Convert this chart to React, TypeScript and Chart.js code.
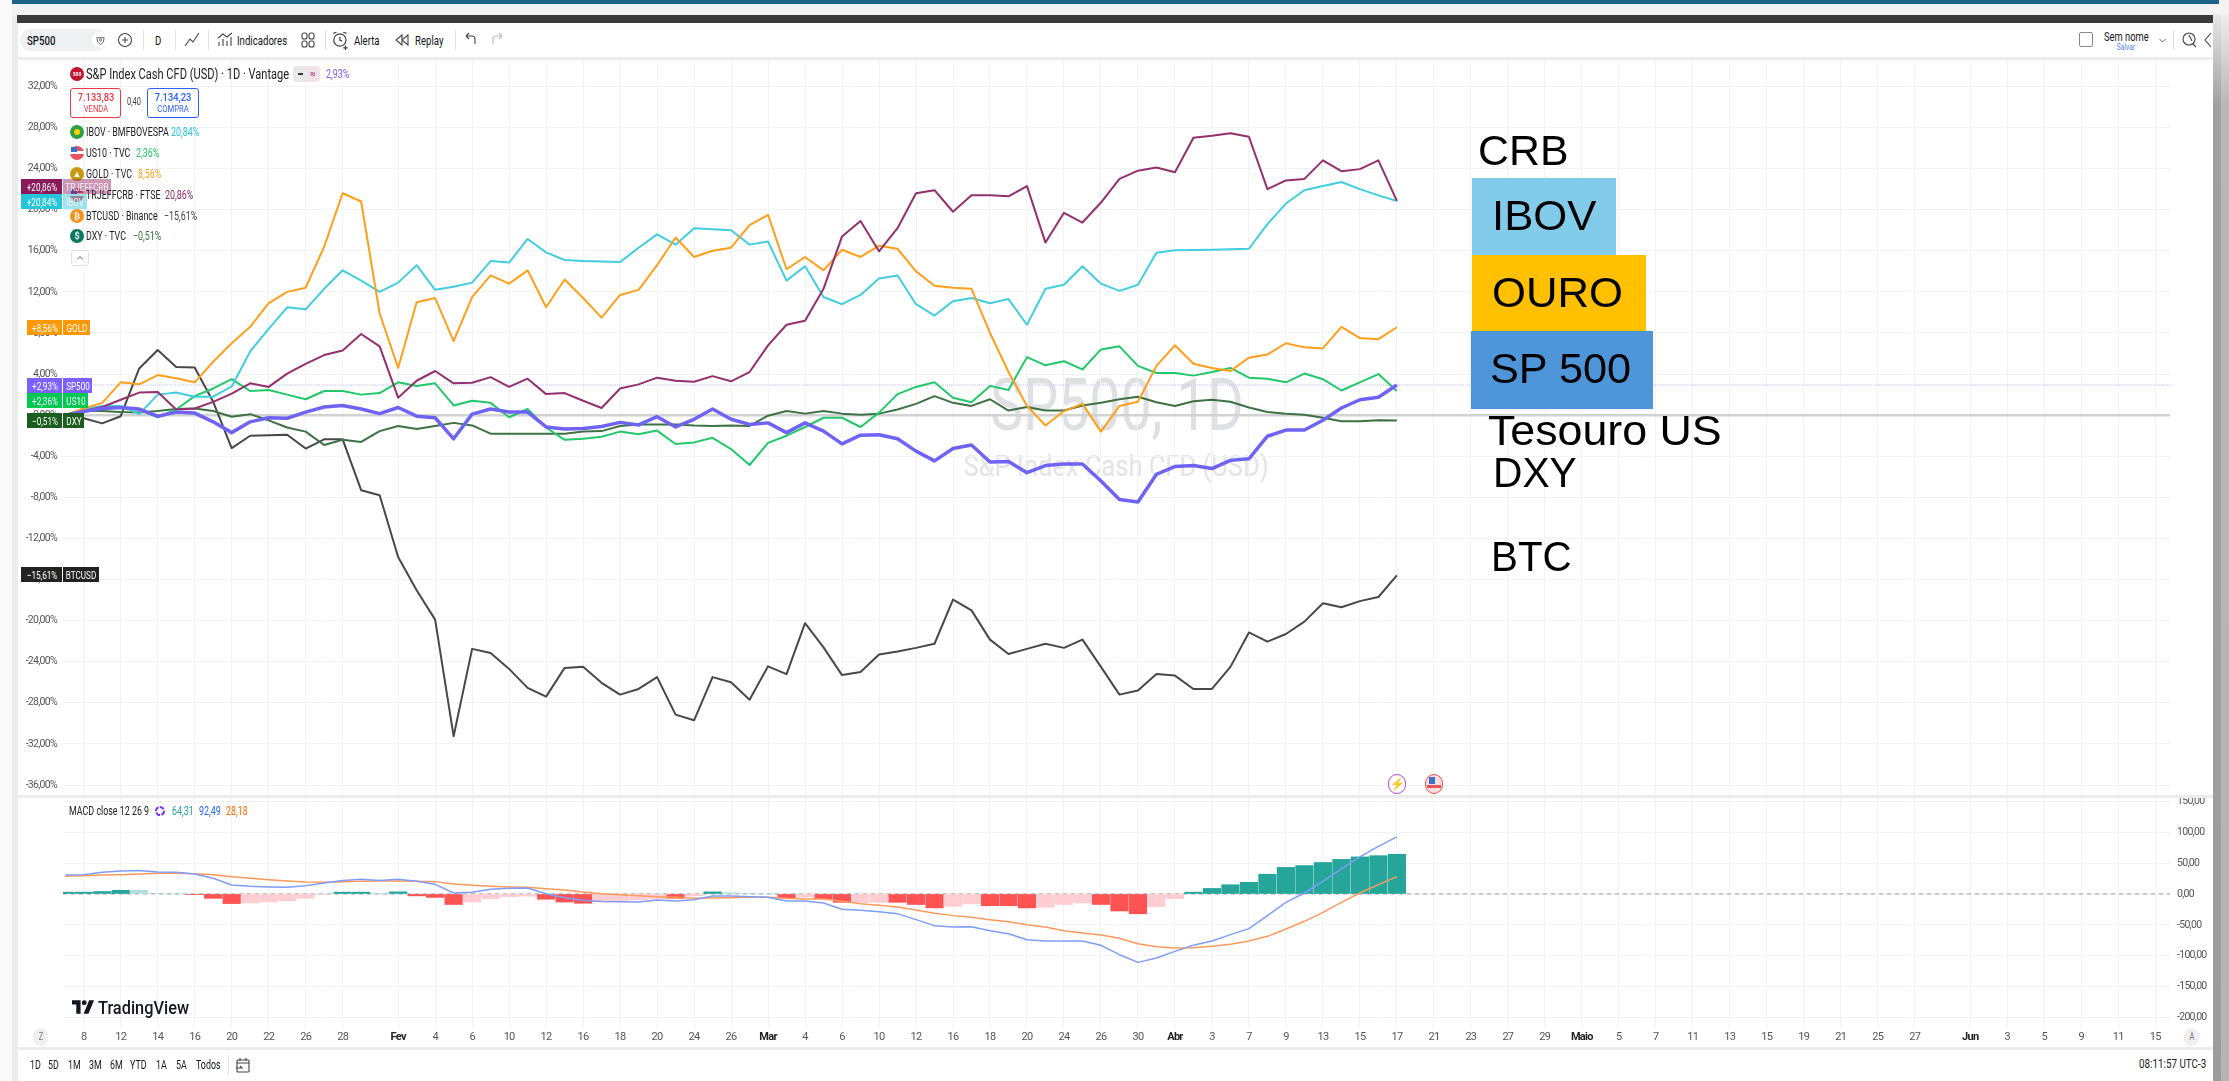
import React, { useEffect, useRef } from "react";
import { Chart, registerables } from "chart.js";

Chart.register(...registerables);

// ---------- data ----------
const gold = [0,0.65,1.2,3.2,3,3.9,3.6,3.2,5.2,7,8.6,10.9,12,12.4,16.4,21.6,20.8,9.9,4.6,11,11.4,7.2,11.5,13.6,12.8,14.1,10.5,13.2,11.4,9.5,11.7,12.2,14.6,17.3,15.4,16,16.3,18.5,19.5,14.2,15.4,14.1,16.1,15.4,16.5,16.2,14,12.6,12.4,12.3,8,4.2,0.9,-1,0.4,1.1,-1.6,0.9,1.3,4.8,6.8,5,4.6,4.3,5.6,5.9,7,6.6,6.5,8.6,7.5,7.4,8.56];
const ibov = [0,0.6,0.9,0.9,0.1,2,2.2,1.8,1.8,2.8,6.2,8.4,10.5,10.3,12.3,14.1,13.1,12,12.9,14.6,12.2,12.5,12.9,15,14.85,17.15,15.85,15.1,15,14.95,14.9,16.3,17.6,16.6,18.2,18.1,18,16.6,16.9,13.1,14.5,11.5,10.8,11.7,13.3,13.6,10.8,9.7,11.1,11.4,10.9,11.3,8.8,12.3,12.7,14.5,12.8,12.1,12.7,15.8,16.05,16.08,16.1,16.15,16.2,18.6,20.6,21.9,22.3,22.7,22,21.4,20.84];
const crb = [0,0.4,0.8,1.5,2.2,2.25,0.55,0.65,1.3,2.1,3.1,2.75,4.05,5,5.85,6.3,7.9,6.7,1.7,3.35,4.3,3.1,3.15,3.7,2.75,3.55,2.05,2.15,1.4,0.7,2.6,3,3.65,3.35,3.25,3.8,3.3,4.2,6.8,8.8,9.2,12.3,17.4,18.9,15.95,18.2,21.6,21.9,19.8,21.4,21.4,21.3,22.3,16.8,19.7,18.75,20.7,23,23.8,24.1,23.65,27,27.2,27.45,27.1,22,22.85,23,24.8,23.75,23.95,24.8,20.86];
const us10 = [0,0.5,0.8,0.7,0.5,-0.2,0.55,1.85,2.6,3.5,2.35,2.45,2,1.55,2.35,2.35,2,2.15,3.2,2.85,3.1,0.95,1.4,1.2,-0.2,0.6,-1.2,-2.4,-2.3,-2.1,-1.6,-1.85,-1.5,-2.8,-2.65,-2.2,-3.3,-4.85,-2.7,-2,-1.15,-0.25,-0.25,-1.15,0.25,2.05,2.75,3.2,1.7,1.25,2.85,2.45,5.65,4.85,5.25,4.45,6.4,6.7,4.8,4.1,4.1,3.85,4.2,4.6,3.65,3.55,3.2,4.05,3.5,2.4,3.2,4,2.36];
const sp500 = [0,0.35,0.65,0.75,0.6,-0.1,0.3,0.2,-0.65,-1.7,-0.65,-0.25,-0.3,0.3,0.8,0.95,0.6,0.15,0.75,-0.1,-0.25,-2.3,0.1,0.6,0.3,0.3,-1.15,-1.35,-1.3,-1.1,-0.7,-0.95,-0.15,-1.15,-0.4,0.6,-0.4,-0.9,-0.75,-1.7,-0.75,-1.55,-2.8,-1.95,-1.9,-2.3,-3.5,-4.45,-3.25,-2.9,-4.55,-4.5,-5.6,-4.9,-4.75,-4.75,-6.4,-8.2,-8.45,-5.75,-5,-4.9,-5.2,-4.4,-4.25,-2.05,-1.45,-1.45,-0.5,0.7,1.5,1.75,2.93];
const dxy = [0,0.4,0.4,0.3,0.25,0.4,0.6,0.65,0.4,-0.15,0.1,-0.5,-1.2,-1.6,-2.9,-2.4,-2.6,-1.55,-1.05,-1.35,-1.05,-0.75,-1,-1.8,-1.8,-1.8,-1.8,-1.8,-1.6,-1.55,-1.05,-0.9,-0.9,-0.9,-1,-1.05,-1,-1.05,-0.05,0.4,0.15,0.4,0.15,0.05,0.15,0.55,1.1,1.85,1.2,0.9,1.55,0.45,0.8,0.45,0.45,0.95,1.2,1.55,1.8,1.25,0.9,1.35,1.5,1.3,0.75,0.3,0.15,0.05,-0.25,-0.6,-0.6,-0.5,-0.51];
const btc = [0,-0.3,-0.8,-0.1,4.55,6.35,4.7,4.65,1.3,-3.2,-2,-1.95,-1.9,-3.25,-2.35,-2.35,-7.3,-7.8,-13.8,-17.05,-19.9,-31.25,-22.75,-23.15,-24.7,-26.55,-27.4,-24.6,-24.5,-26.05,-27.2,-26.65,-25.5,-29.15,-29.7,-25.5,-26,-27.7,-24.45,-25.2,-20.25,-22.6,-25.3,-25,-23.3,-23,-22.65,-22.25,-17.95,-19,-21.85,-23.25,-22.75,-22.25,-22.65,-21.85,-24.5,-27.2,-26.8,-25.2,-25.35,-26.65,-26.65,-24.5,-21.15,-22.05,-21.3,-20.1,-18.3,-18.7,-18.1,-17.7,-15.6];

const macdHist = [3,3,4,6,6,1,1,-1,-7,-15.5,-14.5,-13,-11,-7,-1,3,3,0.5,3.5,-3,-5.5,-17,-13,-7.5,-4.5,-3.5,-8.5,-13,-15,-12.5,-11,-9.5,-8,-7,-3,3.5,2,1,0,-6.5,-5,-7.5,-13.5,-13.5,-13.5,-13.5,-17,-22.5,-20,-16,-19,-19,-22.5,-21.5,-17,-14.5,-17,-27.5,-32,-20.5,-7.5,3,9,15,19,32,43,46,51,56,60,62,64.31];
const macdHistStrong = [1,1,1,1,0,0,0,1,1,1,0,0,0,0,0,1,1,0,1,1,1,1,0,0,0,0,1,1,1,0,0,0,0,1,0,1,0,0,0,1,0,1,1,0,0,1,1,1,0,0,1,1,1,0,0,0,1,1,1,0,0,1,1,1,1,1,1,1,1,1,1,1,1];
const macdLine = [30.7,31.3,35,37,38,35.6,35,32.4,25.4,14.6,12.4,11.3,10.8,13.5,17.8,22,23.7,22,23.7,20.5,15.6,1.6,2.7,7.5,9.2,9.7,0.5,-6,-10,-12,-12.4,-13,-9.7,-11.3,-9.2,-3.2,-3.2,-4.3,-5.4,-11.3,-11.3,-14.5,-24.8,-26.4,-28.6,-31.8,-41.5,-51.2,-53.4,-52.9,-59.3,-64.2,-73.9,-76,-76,-76,-83,-98.2,-110.6,-103.6,-92.8,-83,-76,-65.8,-56,-35,-13.5,1.6,20.5,40.5,59.9,77,92.49];
const signalLine = [28.6,29.7,30.7,31.3,32.4,33.4,33.4,32.9,31.3,28,25.4,23.2,21,19.4,18.9,20,20.5,21,21,20.5,20,16.2,14,12.4,11.3,10.8,8.6,6.5,3.2,0.5,-1.1,-2.7,-4.3,-5.4,-7,-6.5,-5.9,-4.9,-5.4,-7,-8,-8,-11.9,-15.6,-18.3,-21,-25.9,-31.3,-35,-37.8,-41.5,-44.8,-49.6,-53.4,-59.3,-63.1,-66.3,-71.7,-80.4,-85.2,-87.4,-86.8,-84.7,-81.4,-76,-68.5,-56.6,-44.2,-29.7,-13.5,1.6,15.1,28.18];

const xTickIndex = [1,3,5,7,9,11,13,15,18,20,22,24,26,28,30,32,34,36,38,40,42,44,46,48,50,52,54,56,58,60,62,64,66,68,70,72,74,76,78,80,82,84,86,88,90,92,94,96,98,100,103,105,107,109,111,113];
const xTickLabels = ["8","12","14","16","20","22","26","28","Fev","4","6","10","12","16","18","20","24","26","Mar","4","6","10","12","16","18","20","24","26","30","Abr","3","7","9","13","15","17","21","23","27","29","Maio","5","7","11","13","15","19","21","25","27","Jun","3","5","9","11","15"];
const monthLabels = ["Fev", "Mar", "Abr", "Maio", "Jun"];
const mainYTicks = [32,28,24,20,16,12,8,4,0,-4,-8,-12,-16,-20,-24,-28,-32,-36];
const macdYTicks = [150,100,50,0,-50,-100,-150,-200];
const sp500Last = 2.93;

const axisRange = { xMin: -0.12, xMax: 113.8, mainMin: -37.07, mainMax: 34.67, macdMin: -216.8, macdMax: 155.3 };

const FONT = "Roboto, sans-serif";
const GRID = "#f2f3f5";
const pts = (a: number[]) => a.map((y, x) => ({ x, y }));
const lineDs = (label: string, a: number[], color: string, width: number, order: number) => ({
  type: "line", label, data: pts(a), borderColor: color, borderWidth: width, pointRadius: 0, tension: 0, order, borderJoinStyle: "round",
});
const fmt = (v: number) => v.toFixed(2).replace(".", ",");
const setTicks = (list: number[]) => (axis: any) => { axis.ticks = list.map((value) => ({ value })); };
const noPad = (s: any) => { s.paddingTop = 0; s.paddingBottom = 0; s.paddingLeft = 0; s.paddingRight = 0; };
// tighter tick text, as the reference's labels are horizontally squeezed
const tightText = { id: "tightText", beforeDraw: (c: any) => { c.ctx.letterSpacing = "-0.7px"; } };

function MainPane() {
  const ref = useRef<HTMLCanvasElement>(null);
  useEffect(() => {
    const chart = new Chart(ref.current!, {
      type: "line",
      plugins: [tightText],
      data: {
        datasets: [
          { ...lineDs("zero", [], "#d2d2d2", 2.5, 9), data: [{ x: axisRange.xMin, y: 0 }, { x: axisRange.xMax, y: 0 }] },
          { ...lineDs("last", [], "#d5d0fb", 1.5, 8), borderDash: [1, 1], data: [{ x: axisRange.xMin, y: sp500Last }, { x: axisRange.xMax, y: sp500Last }] },
          lineDs("BTCUSD", btc, "#484848", 2, 7),
          lineDs("DXY", dxy, "#3e7143", 2, 6),
          lineDs("US10", us10, "#22c869", 2, 5),
          lineDs("IBOV", ibov, "#42cde0", 2, 4),
          lineDs("GOLD", gold, "#ff9f1c", 2, 3),
          lineDs("CRB", crb, "#93306d", 2, 2),
          lineDs("SP500", sp500, "#6e63f4", 3.5, 1),
        ] as any,
      },
      options: {
        animation: false, responsive: false, events: [],
        layout: { padding: { right: 59, top: 0, bottom: 0, left: 0 } },
        plugins: { legend: { display: false }, tooltip: { enabled: false } },
        scales: {
          x: {
            type: "linear", min: axisRange.xMin, max: axisRange.xMax, offset: false,
            afterBuildTicks: setTicks(xTickIndex), afterFit: (s: any) => { s.height = 0; noPad(s); },
            ticks: { display: false, autoSkip: false }, border: { display: false },
            grid: { color: GRID, drawTicks: false },
          },
          y: {
            min: axisRange.mainMin, max: axisRange.mainMax,
            afterBuildTicks: setTicks(mainYTicks), afterFit: (s: any) => { s.width = 63; noPad(s); },
            border: { display: false }, grid: { color: GRID, drawTicks: false },
            ticks: { autoSkip: false, padding: 6, color: "#555", font: { size: 10.5, family: FONT }, callback: (v: any) => fmt(v) + "%" },
          },
        },
      } as any,
    });
    return () => chart.destroy();
  }, []);
  return <canvas ref={ref} width={2229} height={737} style={{ position: "absolute", left: 0, top: 59, width: 2229, height: 737 }} />;
}

function MacdPane() {
  const ref = useRef<HTMLCanvasElement>(null);
  useEffect(() => {
    const chart = new Chart(ref.current!, {
      type: "line",
      plugins: [tightText],
      data: {
        datasets: [
          { ...lineDs("zero", [], "#9a9a9a", 1, 5), borderDash: [4, 4], data: [{ x: axisRange.xMin, y: 0 }, { x: axisRange.xMax, y: 0 }] },
          {
            type: "bar", label: "Histogram", data: pts(macdHist), order: 4, barThickness: 17.5, grouped: false,
            backgroundColor: macdHist.map((v, i) => (v >= 0 ? (macdHistStrong[i] ? "#26a69a" : "#b2dfdb") : macdHistStrong[i] ? "#ff5252" : "#ffcdd2")),
          },
          lineDs("Signal", signalLine, "#ff9a5c", 1.5, 2),
          lineDs("MACD", macdLine, "#7f9dfa", 1.5, 1),
        ] as any,
      },
      options: {
        animation: false, responsive: false, events: [],
        layout: { padding: { left: 63, top: 0, bottom: 0, right: 0 } },
        plugins: { legend: { display: false }, tooltip: { enabled: false } },
        scales: {
          x: {
            type: "linear", min: axisRange.xMin, max: axisRange.xMax, offset: false,
            afterBuildTicks: setTicks(xTickIndex), afterFit: (s: any) => { s.height = 19; noPad(s); },
            border: { display: false }, grid: { color: GRID, drawTicks: false, offset: false },
            ticks: {
              autoSkip: false, maxRotation: 0, padding: 3, color: (c: any) => (monthLabels.includes(c.tick?.label) ? "#222" : "#555"),
              font: (c: any) => ({ size: 11, family: FONT, weight: monthLabels.includes(c.tick?.label) ? "bold" : "normal" }),
              callback: (v: any) => xTickLabels[xTickIndex.indexOf(v)],
            },
          },
          y: {
            position: "right", min: axisRange.macdMin, max: axisRange.macdMax,
            afterBuildTicks: setTicks(macdYTicks), afterFit: (s: any) => { s.width = 59; noPad(s); },
            border: { display: false }, grid: { color: GRID, drawTicks: false },
            ticks: { autoSkip: false, padding: 7, color: "#555", font: { size: 10.5, family: FONT }, callback: (v: any) => fmt(v) },
          },
        },
      } as any,
    });
    return () => chart.destroy();
  }, []);
  return <canvas ref={ref} width={2229} height={249} style={{ position: "absolute", left: 0, top: 798, width: 2229, height: 249 }} />;
}

// ---------- page furniture ----------
type TP = { x: number; y: number; s?: number; c?: string; w?: number | string; sx?: number; f?: string; children: React.ReactNode; center?: boolean };
const T = ({ x, y, s = 12, c = "#131722", w = 400, sx = 0.74, f = "Roboto", children, center }: TP) => (
  <div style={{ position: "absolute", left: x, top: y, whiteSpace: "nowrap", fontFamily: f, fontSize: s, fontWeight: w as any, color: c, lineHeight: 1, transformOrigin: center ? "center center" : "left center", transform: `translate(${center ? "-50%" : "0"},-50%) scaleX(${sx})` }}>
    {children}
  </div>
);
const Box = ({ x, y, w, h, bg, r, b, o }: { x: number; y: number; w: number; h: number; bg?: string; r?: number; b?: string; o?: number }) => (
  <div style={{ position: "absolute", left: x, top: y, width: w, height: h, background: bg, borderRadius: r, border: b, boxSizing: "border-box", opacity: o }} />
);
const Ic = ({ cx, cy, size = 18, children }: { cx: number; cy: number; size?: number; children: React.ReactNode }) => (
  <svg width={size} height={size} viewBox="0 0 18 18" style={{ position: "absolute", left: cx - size / 2, top: cy - size / 2 }} fill="none" stroke="#444" strokeWidth={1.1}>
    {children}
  </svg>
);
const Dot = ({ y, bg, t, fg = "#fff" }: { y: number; bg: string; t?: string; fg?: string }) => (
  <>
    <Box x={70} y={y - 7} w={14} h={14} r={7} bg={bg} />
    {t ? <T x={77} y={y} s={t.length > 1 ? 6 : 9} c={fg} w={700} sx={1} center>{t}</T> : null}
  </>
);
const Flag = ({ y }: { y: number }) => (
  <>
    <Box x={70} y={y - 7} w={14} h={14} r={7} bg="#e9545b" />
    <Box x={70} y={y - 2} w={14} h={3} bg="#fff" />
    <Box x={71} y={y - 6} w={6} h={5} bg="#3b72c9" />
  </>
);
const LegendRow = ({ y, name, val, vx, c }: { y: number; name: string; val: string; vx: number; c: string }) => (
  <>
    <T x={86} y={y} s={12} c="#222">{name}</T>
    <T x={vx} y={y} s={12} c={c}>{val}</T>
  </>
);
const Price = ({ y, x = 27, w0 = 35, bg, val, name, nw, fade }: { y: number; x?: number; w0?: number; bg: string; val: string; name: string; nw: number; fade?: boolean }) => (
  <>
    <Box x={x} y={y} w={w0} h={15} bg={bg} />
    <T x={x + w0 / 2} y={y + 7.5} s={11} c="#fff" sx={0.74} center>{val}</T>
    <Box x={63} y={y} w={nw} h={15} bg={bg} o={fade ? 0.45 : 1} />
    <T x={63 + nw / 2} y={y + 7.5} s={11} c={fade ? "#f6eaf1" : "#fff"} sx={0.74} center>{name}</T>
  </>
);
const Note = ({ x, y, sx = 1.03, children }: { x: number; y: number; sx?: number; children: React.ReactNode }) => (
  <T x={x} y={y} s={42} c="#000" f='"Liberation Sans", sans-serif' sx={sx}>{children}</T>
);
const timeframes: [string, number][] = [["1D", 30], ["5D", 48], ["1M", 68], ["3M", 89], ["6M", 110], ["YTD", 130], ["1A", 156], ["5A", 176], ["Todos", 196]];

export default function App() {
  return (
    <div style={{ position: "fixed", left: 0, top: 0, width: 2229, height: 1081, background: "#fff", overflow: "hidden" }}>
      {/* window frame */}
      <Box x={0} y={0} w={2229} h={16} bg="#f3f3f3" />
      <Box x={11} y={0} w={2208} h={4} bg="#1c6288" />
      <Box x={0} y={0} w={12} h={1081} bg="#fafafa" />
      <Box x={12} y={16} w={6} h={1065} bg="#ececec" />
      <Box x={17} y={15} w={2196} h={8} bg="#3a3a3a" />
      <div style={{ position: "absolute", left: 2213, top: 15, width: 16, height: 1066, background: "linear-gradient(to bottom,#e6e6e6 0,#a0a0a0 90px,#9c9c9c 100%)" }} />
      <Box x={2221} y={15} w={8} h={1066} bg="#ffffff" o={0.25} />

      {/* watermark lies under the lines */}
      <T x={1117} y={406} s={72} c="#dfe0e4" sx={0.77} center>SP500, 1D</T>
      <T x={1116} y={466} s={30} c="#e4e4e6" sx={0.85} center>S&amp;P Index Cash CFD (USD)</T>

      <MainPane />
      <MacdPane />

      {/* toolbar */}
      <Box x={17} y={57} w={2196} h={3} bg="#ededed" />
      <Box x={20} y={29} w={87} h={22} r={11} bg="#eff0f2" />
      <T x={27} y={40} s={13} w={500}>SP500</T>
      <Box x={92} y={32} w={16} h={16} r={8} bg="#fff" />
      <Ic cx={100} cy={40} size={13}><path d="M4 5h10l-1 6-4 4-4-4z" /><circle cx={9} cy={8} r={1.5} /></Ic>
      <Ic cx={125} cy={40}><circle cx={9} cy={9} r={6.5} /><path d="M9 6v6M6 9h6" /></Ic>
      <Box x={143} y={30} w={1} h={20} bg="#e3e3e3" />
      <T x={155} y={40} s={13}>D</T>
      <Box x={175} y={30} w={1} h={20} bg="#e3e3e3" />
      <Ic cx={192} cy={40}><path d="M2 15l5-7 3 3 6-9" /></Ic>
      <Box x={208} y={30} w={1} h={20} bg="#e3e3e3" />
      <Ic cx={225} cy={40}><path d="M3 15v-4M7 15V8M11 15v-5M15 15V6M2 7l5-4 4 3 5-4" /></Ic>
      <T x={237} y={40} s={13}>Indicadores</T>
      <Ic cx={308} cy={40}><rect x={3} y={2} width={5} height={6} rx={2} /><rect x={10} y={2} width={5} height={6} rx={2} /><rect x={3} y={10} width={5} height={6} rx={2} /><rect x={10} y={10} width={5} height={6} rx={2} /></Ic>
      <Box x={325} y={30} w={1} h={20} bg="#e3e3e3" />
      <Ic cx={341} cy={40} size={20}><circle cx={8} cy={9} r={5.5} /><path d="M8 6v3l2 1M2 3l3-1M14 3l-3-1M13 14v4M11 16h4" /></Ic>
      <T x={354} y={40} s={13}>Alerta</T>
      <Ic cx={402} cy={40}><path d="M9 4L3 9l6 5zM15 4L9 9l6 5z" /></Ic>
      <T x={415} y={40} s={13}>Replay</T>
      <Box x={455} y={30} w={1} h={20} bg="#e3e3e3" />
      <Ic cx={470} cy={40}><path d="M5 5h6q3 0 3 3v5M5 5l3-3M5 5l3 3" /></Ic>
      <Ic cx={498} cy={40}><g stroke="#bbb"><path d="M13 5H7q-3 0-3 3v5M13 5l-3-3M13 5l-3 3" /></g></Ic>
      <Box x={2079} y={32} w={14} h={15} r={2} b="1.5px solid #888" />
      <T x={2104} y={36} s={13} sx={0.72}>Sem nome</T>
      <T x={2126} y={47} s={9} c="#5b7cf5" center>Salvar</T>
      <Ic cx={2162} cy={40} size={9}><path d="M3 6l6 6 6-6" stroke="#666" strokeWidth={2} /></Ic>
      <Box x={2173} y={30} w={1} h={20} bg="#e3e3e3" />
      <Ic cx={2190} cy={40}><circle cx={8} cy={8} r={6} /><path d="M8 4l3 6M12 13l3 3" /></Ic>
      <Ic cx={2211} cy={40}><path d="M9 2l-6 7 6 7" /></Ic>

      {/* series legend */}
      <Box x={70} y={67} w={14} h={14} r={7} bg="#c2152b" />
      <T x={77} y={74} s={5} c="#fff" w={700} sx={1} center>500</T>
      <T x={86} y={74} s={14} c="#222" sx={0.79}>S&amp;P Index Cash CFD (USD) · 1D · Vantage</T>
      <Box x={293} y={66} w={27} h={16} r={4} bg="#f0e3ea" />
      <Box x={293} y={66} w={13} h={16} r={4} bg="#e8e8e8" />
      <Box x={298} y={73} w={5} h={2} bg="#333" />
      <T x={310} y={74} s={10} c="#a83a70" w={700} sx={1}>≈</T>
      <T x={326} y={74} s={12} c="#7b61ff">2,93%</T>
      <Box x={70} y={88} w={51} h={30} r={3} b="1px solid #f23645" />
      <T x={95.5} y={97} s={11} c="#f23645" w={500} sx={0.85} center>7.133,83</T>
      <T x={95.5} y={109} s={9} c="#f23645" sx={0.85} center>VENDA</T>
      <T x={127} y={102} s={10} c="#444">0,40</T>
      <Box x={147} y={88} w={52} h={30} r={3} b="1px solid #2962ff" />
      <T x={173} y={97} s={11} c="#2962ff" w={500} sx={0.85} center>7.134,23</T>
      <T x={173} y={109} s={9} c="#2962ff" sx={0.85} center>COMPRA</T>
      <Box x={70} y={125} w={14} h={14} r={7} bg="#2f9e44" /><Box x={74} y={129} w={6} h={6} r={3} bg="#f5d400" />
      <LegendRow y={132} name="IBOV · BMFBOVESPA" val="20,84%" vx={171} c="#26c6da" />
      <Flag y={153} />
      <LegendRow y={153} name="US10 · TVC" val="2,36%" vx={136} c="#22c869" />
      <Dot y={174} bg="#c99a10" t="▲" />
      <LegendRow y={174} name="GOLD · TVC" val="8,56%" vx={138} c="#ff9f1c" />
      <Flag y={195} />
      <LegendRow y={195} name="TRJEFFCRB · FTSE" val="20,86%" vx={165} c="#8f2b68" />
      <Dot y={216} bg="#f7931a" t="₿" />
      <LegendRow y={216} name="BTCUSD · Binance" val="−15,61%" vx={164} c="#444" />
      <Dot y={236} bg="#0b7a5c" t="$" />
      <LegendRow y={236} name="DXY · TVC" val="−0,51%" vx={133} c="#3e7143" />
      <Box x={71} y={250} w={18} h={16} r={3} b="1px solid #e0e0e0" bg="#fff" />
      <Ic cx={80} cy={258} size={8}><path d="M3 12l6-6 6 6" stroke="#444" strokeWidth={2} /></Ic>

      {/* last value labels */}
      <Price y={179} x={21} w0={41} bg="#8a1a5c" val="+20,86%" name="TRJEFFCRB" nw={48} fade />
      <Price y={194} x={21} w0={41} bg="#26c6da" val="+20,84%" name="IBOV" nw={24} fade />
      <Price y={320} bg="#ff9800" val="+8,56%" name="GOLD" nw={27} />
      <Price y={378} bg="#7b61ff" val="+2,93%" name="SP500" nw={29} />
      <Price y={393} bg="#00c853" val="+2,36%" name="US10" nw={25} />
      <Price y={413} bg="#1b5e20" val="−0,51%" name="DXY" nw={21} />
      <Price y={567} x={21} w0={41} bg="#222" val="−15,61%" name="BTCUSD" nw={36} />

      {/* pane separators, events */}
      <Box x={17} y={795} w={2196} h={3} bg="#ededed" />
      <Box x={17} y={1047} w={2196} h={3} bg="#ededed" />
      <Box x={1388} y={774} w={18} h={20} r={10} b="1.5px solid #a94fd8" bg="#fff" />
      <T x={1397} y={784} s={12} c="#a94fd8" w={700} sx={1} center>⚡</T>
      <Box x={1425} y={774} w={18} h={20} r={10} b="1.5px solid #ef5350" bg="#fbdcdc" />
      <Box x={1429} y={777} w={6} h={7} bg="#3b72c9" />
      <Box x={1427} y={785} w={14} h={3} bg="#e9545b" />

      {/* macd legend + brand */}
      <T x={69} y={811} s={12} c="#222">MACD close 12 26 9</T>
      <Ic cx={160} cy={811} size={12}><circle cx={9} cy={9} r={6} stroke="#7b2ff7" strokeWidth={3} strokeDasharray="7 2" /></Ic>
      <T x={172} y={811} s={12} c="#26a69a">64,31</T>
      <T x={199} y={811} s={12} c="#2962ff">92,49</T>
      <T x={226} y={811} s={12} c="#ff6d00">28,18</T>
      <svg width={22} height={14} viewBox="0 0 36 22" style={{ position: "absolute", left: 72, top: 1000 }} fill="#131722">
        <path d="M0 0h14v22H7V7H0z" /><circle cx={20} cy={4} r={4} /><path d="M28 0h8l-9 22h-8z" />
      </svg>
      <T x={98} y={1007} s={19} w={500} sx={0.86}>TradingView</T>

      {/* bottom bar */}
      <Box x={33} y={1028} w={15} h={18} r={8} bg="#f0f0f0" />
      <T x={41} y={1037} s={10} c="#777" center>Z</T>
      <Box x={2184} y={1028} w={15} h={18} r={8} bg="#f0f0f0" />
      <T x={2192} y={1037} s={10} c="#777" center>A</T>
      {timeframes.map(([t, x]) => <T key={t} x={x} y={1065} s={12}>{t}</T>)}
      <Box x={228} y={1055} w={1} h={20} bg="#e3e3e3" />
      <Ic cx={243} cy={1065}><rect x={3} y={4} width={12} height={12} rx={1} /><path d="M3 7h12M6 2v3M12 2v3M2 12h6l-2-2" /></Ic>
      <T x={2139} y={1064} s={12} c="#222" sx={0.82}>08:11:57 UTC-3</T>

      {/* presentation annotations */}
      <Note x={1478} y={151} sx={1.02}>CRB</Note>
      <Box x={1472} y={178} w={144} h={77} bg="#83cbeb" />
      <Note x={1492} y={216} sx={1.04}>IBOV</Note>
      <Box x={1472} y={255} w={174} h={76} bg="#ffc000" />
      <Note x={1492} y={293} sx={1.04}>OURO</Note>
      <Box x={1471} y={331} w={182} h={78} bg="#4f95d9" />
      <Note x={1490} y={369} sx={1.03}>SP 500</Note>
      <Note x={1488} y={431} sx={1.065}>Tesouro US</Note>
      <Note x={1493} y={473} sx={0.97}>DXY</Note>
      <Note x={1491} y={557} sx={0.96}>BTC</Note>
    </div>
  );
}
